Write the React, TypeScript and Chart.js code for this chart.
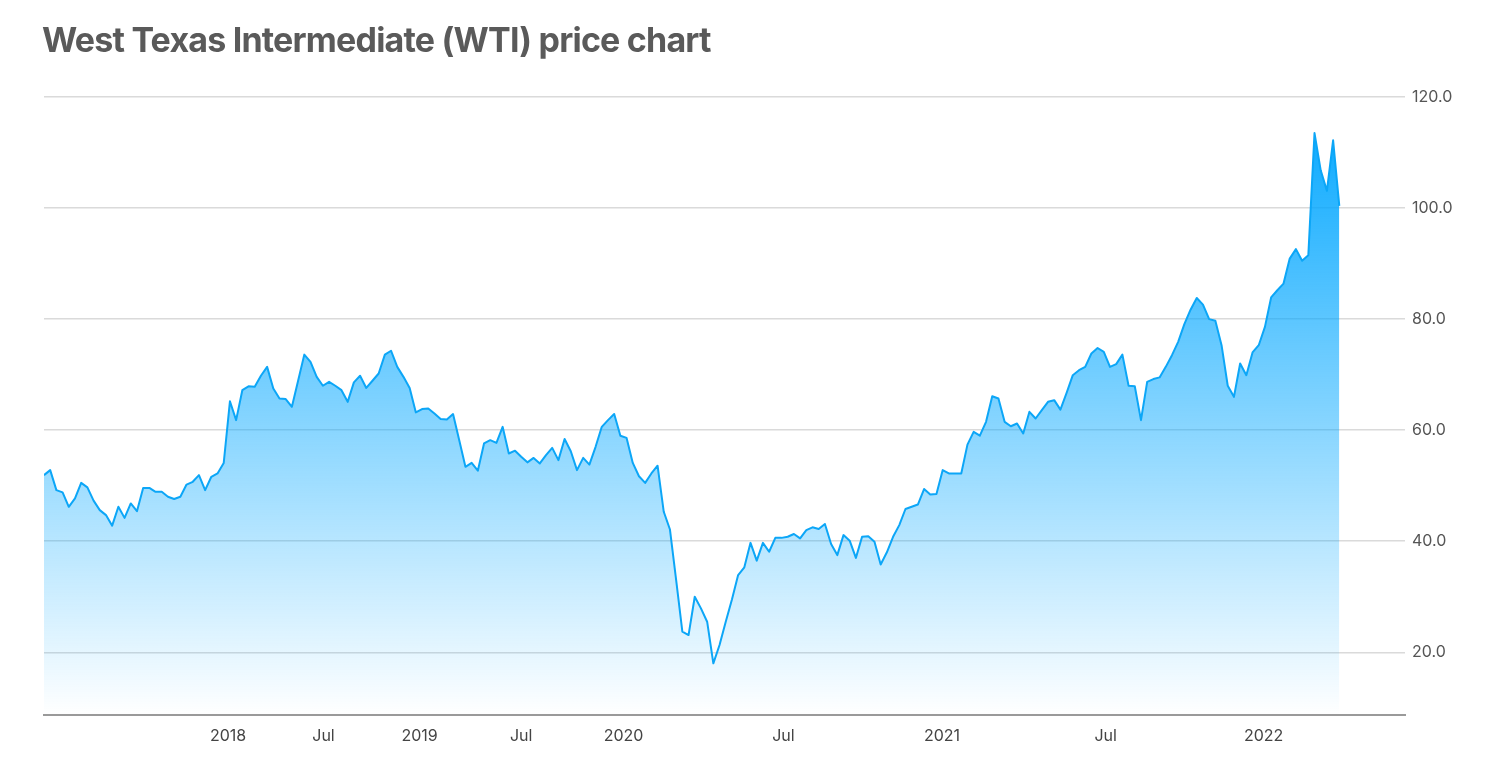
import React, { useEffect, useRef } from "react";
import { Chart, registerables } from "chart.js";

Chart.register(...registerables);

const chartTitle = "West Texas Intermediate (WTI) price chart";

// WTI price, one value per observation (oldest first)
const wtiPrices: number[] = [
  51.9, 52.8, 49.2, 48.8, 46.2, 47.7, 50.5, 49.7, 47.3, 45.6,
  44.7, 42.8, 46.2, 44.2, 46.8, 45.4, 49.6, 49.6, 48.9, 48.9,
  48.0, 47.6, 48.0, 50.2, 50.7, 51.9, 49.2, 51.6, 52.2, 54.1,
  65.2, 61.8, 67.2, 67.9, 67.8, 69.8, 71.4, 67.5, 65.7, 65.6,
  64.2, 68.9, 73.6, 72.3, 69.6, 68.0, 68.7, 68.0, 67.2, 65.1,
  68.6, 69.8, 67.6, 68.9, 70.2, 73.6, 74.3, 71.4, 69.6, 67.6,
  63.2, 63.8, 63.9, 63.0, 62.0, 61.9, 62.9, 58.2, 53.4, 54.1,
  52.7, 57.6, 58.2, 57.7, 60.6, 55.8, 56.3, 55.2, 54.2, 55.0,
  54.0, 55.5, 56.8, 54.6, 58.4, 56.2, 52.8, 55.0, 53.8, 57.0,
  60.6, 61.8, 62.9, 59.0, 58.6, 54.1, 51.7, 50.5, 52.2, 53.6,
  45.3, 42.1, 33.0, 23.7, 23.1, 30.0, 27.9, 25.5, 18.0, 21.3,
  25.5, 29.5, 33.9, 35.3, 39.7, 36.5, 39.7, 38.1, 40.6, 40.6,
  40.8, 41.3, 40.5, 42.0, 42.5, 42.2, 43.1, 39.5, 37.5, 41.1,
  40.1, 37.0, 40.8, 40.9, 39.9, 35.8, 38.0, 40.8, 42.9, 45.8,
  46.2, 46.6, 49.4, 48.4, 48.5, 52.8, 52.2, 52.2, 52.2, 57.4,
  59.7, 59.0, 61.5, 66.1, 65.7, 61.5, 60.7, 61.2, 59.4, 63.3,
  62.1, 63.6, 65.1, 65.4, 63.7, 66.7, 69.9, 70.8, 71.4, 73.8,
  74.8, 74.1, 71.4, 71.9, 73.6, 68.0, 67.9, 61.8, 68.7, 69.2,
  69.5, 71.4, 73.5, 75.9, 79.1, 81.7, 83.8, 82.6, 80.0, 79.7,
  75.3, 68.0, 66.0, 72.0, 69.9, 74.0, 75.3, 78.6, 83.9, 85.2,
  86.4, 90.9, 92.6, 90.5, 91.5, 113.5, 106.8, 103.1, 112.2, 100.4,
];

// x-axis labels and where they fall along the observation index
const xTickLabels: string[] = ["2018", "Jul", "2019", "Jul", "2020", "Jul", "2021", "Jul", "2022"];
const xTickIndex: number[] = [29.7, 45.1, 60.6, 77.0, 93.5, 119.3, 144.9, 171.3, 196.8];

// y-axis ticks
const yTickValues: number[] = [20, 40, 60, 80, 100, 120];

export default function App() {
  const canvasRef = useRef<HTMLCanvasElement | null>(null);

  useEffect(() => {
    document.body.style.margin = "0";
    const canvas = canvasRef.current;
    if (!canvas) return;

    const chart = new Chart(canvas, {
      type: "line",
      data: {
        datasets: [
          {
            label: "WTI",
            data: wtiPrices.map((v, i) => ({ x: i, y: v })),
            borderColor: "#0ca6f7",
            borderWidth: 2,
            borderJoinStyle: "round",
            pointRadius: 0,
            tension: 0,
            fill: "start",
            backgroundColor: (ctx: any) => {
              const c = ctx.chart;
              const area = c.chartArea;
              if (!area) return "rgba(0,166,255,0.5)";
              const g = c.ctx.createLinearGradient(0, area.top, 0, area.bottom);
              g.addColorStop(0, "rgba(0,166,255,1)");
              g.addColorStop(1, "rgba(0,166,255,0)");
              return g;
            },
          },
        ],
      },
      options: {
        responsive: false,
        animation: false,
        layout: { padding: { left: 44, top: 97, right: 0, bottom: 0 } },
        plugins: {
          legend: { display: false },
          tooltip: { enabled: false },
          title: { display: false },
        },
        scales: {
          x: {
            type: "linear",
            min: 0,
            max: 219.6,
            grid: { display: false, drawTicks: false },
            border: { display: true, color: "#9a9a9a", width: 2 },
            afterBuildTicks: (scale: any) => {
              scale.ticks = xTickIndex.map((v) => ({ value: v }));
            },
            afterFit: (scale: any) => {
              scale.height = 47;
            },
            ticks: {
              autoSkip: false,
              maxRotation: 0,
              padding: 12,
              color: "#444",
              font: { family: "Inter", size: 16 },
              callback: (_v: any, i: number) => xTickLabels[i],
            },
          },
          y: {
            type: "linear",
            position: "right",
            min: 8.7,
            max: 120,
            afterBuildTicks: (scale: any) => {
              scale.ticks = yTickValues.map((v) => ({ value: v }));
            },
            afterFit: (scale: any) => {
              scale.width = 95;
            },
            grid: { color: "#dadada", lineWidth: 1.5, drawTicks: false },
            border: { display: false },
            ticks: {
              padding: 7,
              color: "#555",
              font: { family: "Inter", size: 16 },
              callback: (v: any) => Number(v).toFixed(1),
            },
          },
        },
      },
    });

    return () => chart.destroy();
  }, []);

  return (
    <div style={{ position: "relative", width: 1500, height: 762, background: "#fff" }}>
      <div
        style={{
          position: "absolute",
          left: 42,
          top: 23,
          fontFamily: "Inter, sans-serif",
          fontWeight: 700,
          fontSize: 34,
          lineHeight: "34px",
          letterSpacing: "-0.8px",
          color: "#5a5a5a",
          whiteSpace: "nowrap",
        }}
      >
        {chartTitle}
      </div>
      <canvas ref={canvasRef} width={1500} height={762} style={{ display: "block" }} />
    </div>
  );
}
